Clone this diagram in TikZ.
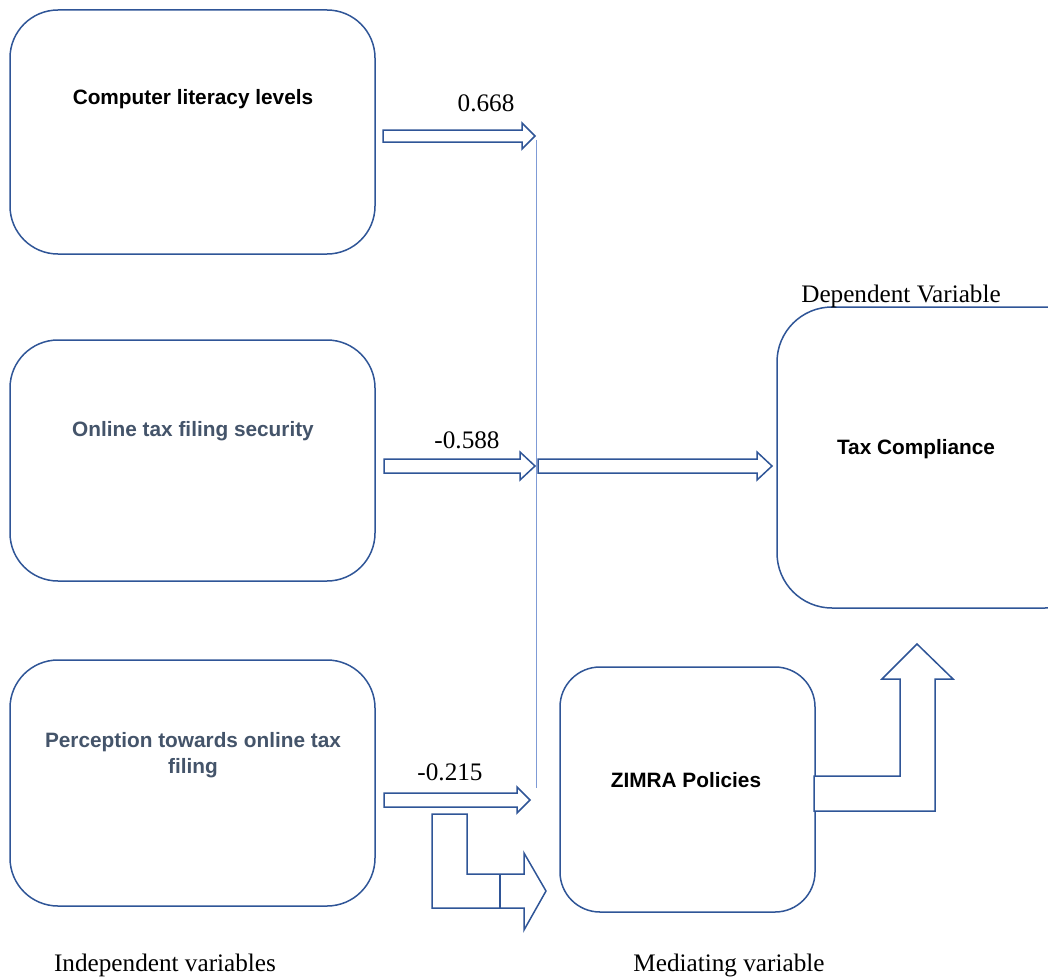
\documentclass[tikz,border=0pt]{standalone}
\usepackage{fontspec}
\setmainfont{Liberation Serif}
\newfontfamily\arialf{Liberation Sans}
\definecolor{boxblue}{HTML}{2F5597}
\definecolor{slate}{HTML}{44546A}
\definecolor{thinblue}{HTML}{7F9BD6}
\begin{document}
\begin{tikzpicture}[x=1pt,y=-1pt,
  varbox/.style={draw=boxblue,line width=1.5pt,fill=white,rounded corners=#1},
  boxtext/.style={font=\arialf\bfseries\fontsize{20.8}{26}\selectfont,align=center,inner sep=0pt},
  numlabel/.style={font=\fontsize{25.2}{28}\selectfont,inner sep=0pt},
  blockarrow/.style={draw=boxblue,line width=1.5pt,fill=white,line join=miter}]
\useasboundingbox (0,0) rectangle (1048,979);
\clip (0,0) rectangle (1048,979);
% boxes
\draw[varbox=48pt] (10,10) rectangle (375,254);
\draw[varbox=48pt] (10,340) rectangle (375,581);
\draw[varbox=48pt] (10,660) rectangle (375,906);
\draw[varbox=55pt] (777,307) rectangle (1100,608);
\draw[varbox=40pt] (560,667) rectangle (815,912);
% box texts
\node[boxtext] (t1) at (193,99) {Computer literacy levels};
\node[boxtext,text=slate] (t2) at (193,431) {Online tax filing security};
\node[boxtext,text=slate] (t3) at (193,755) {Perception towards online tax\\filing};
\node[boxtext] (t4) at (916,449) {Tax Compliance};
\node[boxtext] (t5) at (686,780) {ZIMRA Policies};
% thin vertical line
\coordinate (vtop) at (536.5,140);
\coordinate (vbot) at (536.5,788);
\draw[thinblue,line width=0.8pt] (vtop) -- (vbot);
% block arrows
\draw[blockarrow] (383,130) -- (522,130) -- (522,123) -- (535,136) -- (522,149) -- (522,142) -- (383,142) -- cycle;
\draw[blockarrow] (384,459) -- (520,459) -- (520,452) -- (535,466) -- (520,480) -- (520,473) -- (384,473) -- cycle;
\draw[blockarrow] (538,459) -- (757,459) -- (757,452) -- (772,466) -- (757,480) -- (757,473) -- (538,473) -- cycle;
\draw[blockarrow] (384,793) -- (517,793) -- (517,787) -- (530,800) -- (517,813) -- (517,807) -- (384,807) -- cycle;
% bent arrow down-right
\draw[blockarrow] (432,814) -- (467,814) -- (467,874) -- (524,874) -- (524,853) -- (546,891) -- (524,930) -- (524,908) -- (432,908) -- cycle;
\draw[boxblue,line width=1.5pt] (500,874) -- (500,908);
% bent arrow up
\draw[blockarrow] (814,776) -- (900,776) -- (900,679) -- (882,679) -- (917,644) -- (953,679) -- (935,679) -- (935,811) -- (814,811) -- cycle;
% number labels
\node[numlabel] (n1) at (486,103) {0.668};
\node[numlabel] (n2) at (467,440) {-0.588};
\node[numlabel] (n3) at (450,772) {-0.215};
% captions
\node[numlabel] (c1) at (901,296) {Dependent Variable};
\node[numlabel] (c2) at (165,965) {Independent variables};
\node[numlabel] (c3) at (729,965) {Mediating variable};
\end{tikzpicture}
\end{document}
